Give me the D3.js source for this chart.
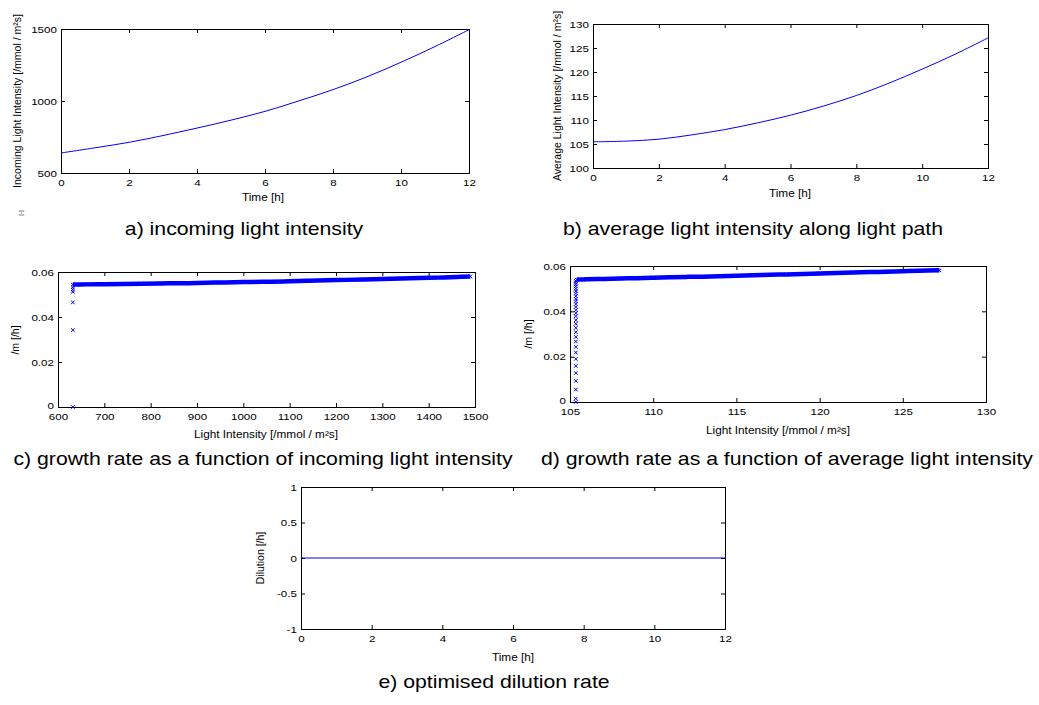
<!DOCTYPE html>
<html><head><meta charset="utf-8">
<script src="https://cdn.jsdelivr.net/npm/d3@7"></script>
<style>
body{margin:0;background:#fff}
svg text{font-family:"Liberation Sans",Arial,Helvetica,sans-serif;fill:#000}
</style>
</head><body>
<svg id="chart" width="1039" height="705"></svg>
<script>
// ---------- data ----------
const timeH = [0,1,2,3,4,5,6,7,8,9,10,11,12];
const incomingLight = [639,675,713,760,812,867,928,1001,1079,1168,1269,1378,1495];
const averageLight = [105.45,105.6,106.0,106.9,108.0,109.4,111.0,112.9,115.1,117.7,120.6,123.7,127.1];

// panel c: growth rate vs incoming light
const incLowX = [632,632,632,632,632,632];
const incLowMu = [0,0.0342,0.0465,0.0512,0.0522,0.0532];
const incBandX = [632,660,700,740,780,820,860,900,940,980,1020,1060,1100,1140,1180,1220,1260,1300,1340,1380,1420,1460,1490];
const incBandMu = [0.0544,0.0545,0.0546,0.0547,0.0548,0.0549,0.0550,0.0551,0.0553,0.0554,0.0556,0.0557,0.0559,0.0561,0.0563,0.0565,0.0567,0.0569,0.0571,0.0573,0.0575,0.0578,0.0580];

// panel d: growth rate vs average light
const avgLowX = [105.35,105.35,105.35,105.35,105.35,105.35,105.35,105.35,105.35,105.35,105.35,105.35,105.35,105.35,105.35,105.35,105.35,105.35,105.35,105.35,105.35,105.35,105.35,105.35,105.35,105.35,105.35,105.35,105.35,105.35];
const avgLowMu = [0,0.0015,0.0055,0.0093,0.0128,0.0159,0.0190,0.0218,0.0243,0.0267,0.0287,0.0308,0.0327,0.0345,0.0361,0.0378,0.0392,0.0405,0.0419,0.0432,0.0444,0.0455,0.0467,0.0479,0.0490,0.0500,0.0510,0.0519,0.0527,0.0534];
const avgBandX = [105.4,106,107,108,109,110,111,112,113,114,115,116,117,118,119,120,121,122,123,124,125,126,127.2];
const avgBandMu = [0.0540,0.0541,0.0543,0.0545,0.0546,0.0548,0.0550,0.0552,0.0553,0.0555,0.0557,0.0559,0.0561,0.0563,0.0565,0.0567,0.0569,0.0571,0.0573,0.0575,0.0577,0.0579,0.0581];

// panel e: dilution
const dilutionT = [0,12];
const dilution = [0,0];

// ticks
const timeTicks = [0,2,4,6,8,10,12];
const incYTicks = [500,1000,1500];
const avgYTicks = [100,105,110,115,120,125,130];
const incXTicks = [600,700,800,900,1000,1100,1200,1300,1400,1500];
const avgXTicks = [105,110,115,120,125,130];
const muTicks = [0,0.02,0.04,0.06];
const dilTicks = [-1,-0.5,0,0.5,1];

// ---------- drawing ----------
const SX = 1.18;
const BLUE = "#0000ff";
const svg = d3.select("#chart");
svg.append("rect").attr("width",1039).attr("height",705).attr("fill","#fff");

function htext(x, y, str, size, anchor){
  return svg.append("text")
    .attr("transform",`translate(${x},${y}) scale(${SX},1)`)
    .attr("font-size",size).attr("text-anchor",anchor||"middle").text(str);
}
function vtext(x, y, str, size){
  return svg.append("text")
    .attr("transform",`translate(${x},${y}) rotate(-90)`)
    .attr("font-size",size).attr("text-anchor","middle").text(str);
}

function panel(o){
  const x = d3.scaleLinear().domain(o.xDom).range([o.x0,o.x1]);
  const y = d3.scaleLinear().domain(o.yDom).range([o.y1,o.y0]);
  const g = svg.append("g");
  const style = sel => {
    sel.select(".domain").remove();
    sel.selectAll("line").attr("stroke","#000");
    sel.selectAll("text").attr("font-size",9.8).attr("font-family",null).attr("transform",`scale(${SX},1)`);
  };
  g.append("g").attr("transform",`translate(0,${o.y1})`)
    .call(d3.axisBottom(x).tickValues(o.xTicks).tickSize(-4).tickSizeOuter(0).tickPadding(o.xPad||6).tickFormat(o.xFmt||(v=>String(v))))
    .call(style);
  g.append("g").attr("transform",`translate(0,${o.y0})`)
    .call(d3.axisTop(x).tickValues(o.xTicks).tickSize(-4).tickSizeOuter(0).tickFormat(""))
    .call(style);
  const yl = g.append("g").attr("transform",`translate(${o.x0},0)`)
    .call(d3.axisLeft(y).tickValues(o.yTicks).tickSize(-4).tickSizeOuter(0).tickPadding(3.5).tickFormat(o.yFmt||(v=>String(v))))
    .call(style);
  if (o.liftZero) yl.selectAll("text").filter(d => d === o.yDom[0]).attr("y", -2);
  g.append("g").attr("transform",`translate(${o.x1},0)`)
    .call(d3.axisRight(y).tickValues(o.yTicks).tickSize(-4).tickSizeOuter(0).tickFormat(""))
    .call(style);
  g.append("rect").attr("x",o.x0+0.5).attr("y",o.y0+0.5)
    .attr("width",o.x1-o.x0).attr("height",o.y1-o.y0)
    .attr("fill","none").attr("stroke","#000").attr("stroke-width",1);
  return {x,y,g};
}

function drawLine(p, xs, ys, w){
  const pts = xs.map((v,i)=>[v,ys[i]]);
  p.g.append("path").datum(pts)
    .attr("d", d3.line().x(d=>p.x(d[0])).y(d=>p.y(d[1])).curve(d3.curveCatmullRom))
    .attr("fill","none").attr("stroke",BLUE).attr("stroke-width",w||1);
}
function drawX(p, xs, ys, s){
  const pts = xs.map((v,i)=>[v,ys[i]]);
  p.g.append("g").selectAll("path").data(pts).join("path")
    .attr("d", d => {
      const cx = p.x(d[0]), cy = p.y(d[1]);
      return `M${cx-s},${cy-s}L${cx+s},${cy+s}M${cx-s},${cy+s}L${cx+s},${cy-s}`;
    })
    .attr("stroke",BLUE).attr("stroke-width",1).attr("fill","none");
}

const muFmt = v => v===0 ? "0" : d3.format(".2f")(v);

// a) incoming light
const pa = panel({x0:61,x1:469,y0:29,y1:173,xDom:[0,12],yDom:[500,1500],xTicks:timeTicks,yTicks:incYTicks});
drawLine(pa, timeH, incomingLight, 1);
vtext(21, 101, "Incoming Light Intensity [/mmol / m²s]", 10.5);
htext(263, 200.5, "Time [h]", 10);
htext(244, 235, "a) incoming light intensity", 18);
svg.append("text").attr("transform","translate(23,213) rotate(-90)").attr("font-size",6).attr("text-anchor","middle").attr("fill","#777").text("[-]");

// b) average light
const pb = panel({x0:593,x1:988,y0:24,y1:168,xDom:[0,12],yDom:[100,130],xTicks:timeTicks,yTicks:avgYTicks});
drawLine(pb, timeH, averageLight, 1);
vtext(561, 96, "Average Light Intensity [/mmol / m²s]", 10.5);
htext(790, 196.5, "Time [h]", 10);
htext(753, 235, "b) average light intensity along light path", 18);

// c) growth vs incoming light
const pc = panel({x0:58,x1:475,y0:272,y1:407,xDom:[600,1500],yDom:[0,0.06],xTicks:incXTicks,yTicks:muTicks,yFmt:muFmt,xPad:6,liftZero:true});
drawLine(pc, incBandX, incBandMu, 4.5);
drawX(pc, incBandX, incBandMu, 1.8);
drawX(pc, incLowX, incLowMu, 1.8);
vtext(19, 340, "/m [/h]", 10.5);
htext(266, 438, "Light Intensity [/mmol / m²s]", 10);
htext(263, 465, "c) growth rate as a function of incoming light intensity", 18);

// d) growth vs average light
const pd = panel({x0:570,x1:986,y0:266,y1:402,xDom:[105,130],yDom:[0,0.06],xTicks:avgXTicks,yTicks:muTicks,yFmt:muFmt,xPad:6,liftZero:true});
drawLine(pd, avgBandX, avgBandMu, 4.5);
drawX(pd, avgBandX, avgBandMu, 1.8);
drawX(pd, avgLowX, avgLowMu, 1.8);
vtext(532, 334, "/m [/h]", 10.5);
htext(778, 433.5, "Light Intensity [/mmol / m²s]", 10);
htext(787, 465, "d) growth rate as a function of average light intensity", 18);

// e) dilution
const pe = panel({x0:301,x1:725,y0:487,y1:629,xDom:[0,12],yDom:[-1,1],xTicks:timeTicks,yTicks:dilTicks,xPad:6.5});
drawLine(pe, dilutionT, dilution, 1);
vtext(264, 558, "Dilution [/h]", 10.5);
htext(513, 660.5, "Time [h]", 10);
htext(494, 688, "e) optimised dilution rate", 18);
</script>
</body></html>
